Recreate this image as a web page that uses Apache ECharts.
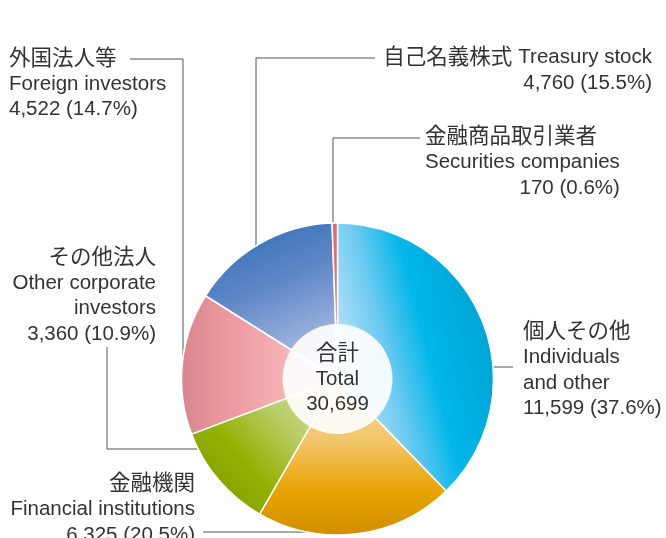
<!DOCTYPE html>
<html>
<head>
<meta charset="utf-8">
<script src="https://cdn.jsdelivr.net/npm/echarts@6/dist/echarts.min.js"></script>
<style>
  html, body { margin: 0; padding: 0; background: #fff; }
  #chart { width: 666px; height: 538px; }
</style>
</head>
<body>
<div id="chart"></div>
<script>
// Shareholding by owner type (thousands of shares)
const namesJa = ['個人その他', '金融機関', 'その他法人', '外国法人等', '自己名義株式', '金融商品取引業者'];
const namesEn = [['Individuals', 'and other'], ['Financial institutions'], ['Other corporate', 'investors'], ['Foreign investors'], ['Treasury stock'], ['Securities companies']];
const values = [11599, 6325, 3360, 4522, 4760, 170];
const shares = [37.6, 20.5, 10.9, 14.7, 15.5, 0.6];
const total = 30699;
const totalLabel = ['合計', 'Total'];

// Pie geometry
const CX = 337.5, CY = 379, R = 156, HOLE = 55;
const FONT = "'Liberation Sans', Arial, 'Noto Sans CJK JP', sans-serif";

// Slice fills: linear gradients in each sector's bounding box
function grad(x, y, x2, y2, stops) {
  return new echarts.graphic.LinearGradient(x, y, x2, y2,
    stops.map(s => ({ offset: s[0], color: s[1] })));
}
const fills = [
  grad(0, 0.55, 1, 0.4, [[0, '#c4e6f8'], [0.32, '#6ccaf1'], [0.58, '#00b6ea'], [1, '#00a3d3']]),
  grad(0, 0, 0, 1, [[0, '#f7deae'], [0.4, '#f1c56a'], [0.72, '#e8a300'], [1, '#d08e00']]),
  grad(1, 0, 0, 1, [[0, '#dde6b0'], [0.35, '#b8cc66'], [0.62, '#93b102'], [1, '#779600']]),
  grad(0, 0, 1, 0, [[0, '#d9878f'], [0.35, '#ee9ba1'], [0.7, '#f4b6b8'], [1, '#f8cccc']]),
  grad(0.1, 0, 0.6, 1, [[0, '#2d6db7'], [0.45, '#5e86c6'], [1, '#b6c4e7']]),
  grad(0, 0, 0, 1, [[0, '#d4687a'], [1, '#e28e98']])
];

// Point on the outer rim for a leader line that ends at a given x (top/bottom) or y (left/right)
function rimAtX(x, top) {
  const d = Math.sqrt(Math.max(0, R * R - (x - CX) * (x - CX)));
  return [x, top ? CY - d : CY + d];
}
function rimAtY(y, left) {
  const d = Math.sqrt(Math.max(0, R * R - (y - CY) * (y - CY)));
  return [left ? CX - d : CX + d, y];
}

// Label blocks and their leader lines
const labelPlace = [
  { x: 523, y: 319.5, align: 'left',  numAlign: 'left',  inline: false,
    line: () => { const p = rimAtY(367, false); return [p, [503, 367], [513, 367]]; } },
  { x: 195, y: 471.5, align: 'right', numAlign: 'right', inline: false,
    line: () => { const p = rimAtY(532, true); return [p, [255, 532], [203, 532]]; } },
  { x: 156, y: 245,   align: 'right', numAlign: 'right', inline: false,
    line: () => { const p = rimAtY(449, true); return [p, [107, 449], [107, 347]]; } },
  { x: 9,   y: 46,    align: 'left',  numAlign: 'left',  inline: false,
    line: () => { const p = rimAtX(183, true); return [p, [183, 59], [130, 59]]; } },
  { x: 652, y: 45,    align: 'right', numAlign: 'right', inline: true,
    line: () => { const p = rimAtX(256, true); return [p, [256, 58], [375, 58]]; } },
  { x: 425, y: 124.5, align: 'left',  numAlign: 'right', inline: false,
    line: () => { const p = rimAtX(333, true); return [p, [333, 138], [420, 138]]; } }
];

function fmtNum(v) { return v.toLocaleString('en-US'); }

// Rich-text block: Japanese name, English name line(s), value with share
function labelText(i) {
  const pl = labelPlace[i];
  const a = pl.align === 'left' ? 'l' : 'r';
  const n = pl.numAlign === 'left' ? 'l' : 'r';
  const lines = [];
  if (pl.inline) {
    lines.push('{j' + a + '|' + namesJa[i] + ' }{' + a + '|' + namesEn[i].join(' ') + '}');
  } else {
    lines.push('{j' + a + '|' + namesJa[i] + '}');
    namesEn[i].forEach(t => lines.push('{' + a + '|' + t + '}'));
  }
  lines.push('{' + n + '|' + fmtNum(values[i]) + ' (' + shares[i].toFixed(1) + '%)}');
  return lines.join('\n');
}

const textBase = { fontSize: 20.5, lineHeight: 25.5, color: '#333333', fontFamily: FONT };
const jaBase = { ...textBase, fontSize: 21.5 };

const chart = echarts.init(document.getElementById('chart'), null, { renderer: 'canvas' });
chart.setOption({
  animation: false,
  backgroundColor: '#ffffff',
  series: [
    {
      type: 'pie',
      center: [CX, CY],
      radius: [0, R],
      startAngle: 90,
      clockwise: true,
      avoidLabelOverlap: false,
      silent: true,
      itemStyle: { borderColor: '#ffffff', borderWidth: 1.5 },
      data: values.map((v, i) => ({
        value: v,
        name: namesEn[i].join(' '),
        itemStyle: { color: fills[i] }
      })),
      label: {
        show: true,
        position: 'outside',
        formatter: p => labelText(p.dataIndex),
        ...textBase,
        rich: {
          l: { ...textBase, align: 'left' },
          r: { ...textBase, align: 'right' },
          jl: { ...jaBase, align: 'left' },
          jr: { ...jaBase, align: 'right' }
        }
      },
      labelLine: {
        show: true,
        smooth: false,
        lineStyle: { color: '#555555', width: 1 }
      },
      labelLayout: params => {
        const pl = labelPlace[params.dataIndex];
        return {
          x: pl.x,
          y: pl.y,
          align: pl.align,
          verticalAlign: 'top',
          labelLinePoints: pl.line()
        };
      }
    },
    {
      // translucent centre disc with the total
      type: 'pie',
      center: [CX, CY],
      radius: [0, HOLE],
      silent: true,
      z: 3,
      data: [{ value: total, name: 'total', itemStyle: { color: 'rgba(255,255,255,0.9)' } }],
      label: {
        show: true,
        position: 'center',
        formatter: () => '{j|' + totalLabel[0] + '}\n{t|' + totalLabel[1] + '}\n{t|' + fmtNum(total) + '}',
        rich: {
          j: { ...jaBase, lineHeight: 25 },
          t: { ...textBase, lineHeight: 25 }
        }
      },
      labelLine: { show: false }
    }
  ]
});
</script>
</body>
</html>
